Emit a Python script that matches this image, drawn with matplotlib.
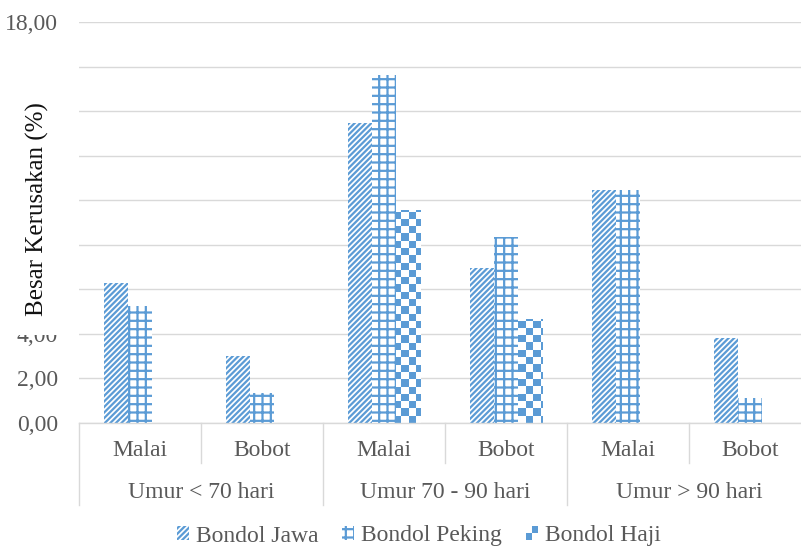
import matplotlib
matplotlib.use('Agg')
import matplotlib.pyplot as plt
import numpy as np
from matplotlib.colors import ListedColormap
from matplotlib.transforms import blended_transform_factory
from matplotlib.patches import Rectangle, Patch
from matplotlib.legend_handler import HandlerBase

plt.rcParams['font.family'] = ['Liberation Serif', 'DejaVu Serif']
plt.rcParams['hatch.linewidth'] = 1.6

# ---- data ----
sub_labels = ['Malai', 'Bobot', 'Malai', 'Bobot', 'Malai', 'Bobot']
group_labels = ['Umur < 70 hari', 'Umur 70 - 90 hari', 'Umur > 90 hari']
series_names = ['Bondol Jawa', 'Bondol Peking', 'Bondol Haji']
jawa = [6.28, 3.02, 13.45, 6.97, 10.46, 3.81]
peking = [5.27, 1.34, 15.60, 8.35, 10.46, 1.12]
haji = [0.0, 0.0, 9.56, 4.65, 0.0, 0.0]
yticks = [0, 2, 4, 6, 8, 10, 12, 14, 16, 18]
# tick labels hidden behind the axis-title box in the reference
hidden_ticks = [6, 8, 10, 12, 14, 16]

BLUE = '#5B9BD5'
GRID = '#D9D9D9'
TXT = '#595959'
FS = 17

W, H = 801, 548
fig = plt.figure(figsize=(W / 100, H / 100), dpi=100)
ax = fig.add_axes([79 / W, 125 / H, 732 / W, 401 / H])

x = np.arange(len(sub_labels))
w = 0.197
ax.bar(x - w, jawa, w, facecolor='white', edgecolor=BLUE, linewidth=0, hatch='//////')
ax.bar(x, peking, w, facecolor='white', edgecolor=BLUE, linewidth=0, hatch='++')
bars_h = ax.bar(x + w, haji, w, facecolor='none', edgecolor='none', linewidth=0)

checker = np.indices((55, 100)).sum(axis=0) % 2
cmap = ListedColormap(['white', BLUE])
for b in bars_h:
    if b.get_height() > 0:
        im = ax.imshow(checker, extent=(-0.5, 5.5, 0, 18), cmap=cmap,
                       interpolation='nearest', aspect='auto', origin='upper', zorder=2)
        im.set_clip_path(b)

ax.set_xlim(-0.5, 5.5)
ax.set_ylim(0, 18)
ax.set_yticks(yticks)
ax.set_yticklabels(['' if v in hidden_ticks else f'{v:.2f}'.replace('.', ',') for v in yticks],
                   fontsize=FS, color=TXT)
ax.tick_params(axis='y', length=0, pad=15)
ax.set_xticks([])
ax.set_axisbelow(True)
ax.grid(axis='y', color=GRID, linewidth=1)
for s in ['left', 'right', 'top']:
    ax.spines[s].set_visible(False)
ax.spines['bottom'].set_color(GRID)
ax.spines['bottom'].set_linewidth(1)

tr = blended_transform_factory(ax.transData, fig.transFigure)
for i, lab in enumerate(sub_labels):
    ax.text(i, (H - 451) / H, lab, transform=tr, ha='center', va='center', fontsize=FS, color=TXT)
for g, lab in enumerate(group_labels):
    ax.text(2 * g + 0.5, (H - 493) / H, lab, transform=tr, ha='center', va='center', fontsize=FS, color=TXT)
for xb in [-0.5, 1.5, 3.5, 5.5]:
    ax.plot([xb, xb], [125 / H, (H - 505) / H], transform=tr, color=GRID, lw=1, clip_on=False)
for xb in [0.5, 2.5, 4.5]:
    ax.plot([xb, xb], [125 / H, (H - 463) / H], transform=tr, color=GRID, lw=1, clip_on=False)

# white box of the axis title partly covering the "4,00" label
fig.patches.append(Rectangle((0, (H - 335) / H), 59 / W, (335 - 45) / H,
                             transform=fig.transFigure, facecolor='white',
                             edgecolor='none', zorder=5))
fig.text(37 / W, 1 - 209 / H, 'Besar Kerusakan (%)', rotation=90, ha='center', va='center',
         fontsize=FS + 1, color='#111111', zorder=6)


class HandlerChecker(HandlerBase):
    def create_artists(self, legend, orig_handle, xdescent, ydescent, width, height, fontsize, trans):
        x0, y0 = -xdescent, -ydescent
        r1 = Rectangle((x0, y0), width / 2, height / 2, facecolor=BLUE, edgecolor='none', transform=trans)
        r2 = Rectangle((x0 + width / 2, y0 + height / 2), width / 2, height / 2, facecolor=BLUE,
                       edgecolor='none', transform=trans)
        return [r1, r2]


h1 = Patch(facecolor='white', edgecolor=BLUE, linewidth=0, hatch='//////')
h2 = Patch(facecolor='white', edgecolor=BLUE, linewidth=0, hatch='++')
h3 = Patch(facecolor='white')
leg = fig.legend([h1, h2, h3], series_names, loc='center', bbox_to_anchor=(0.523, 12 / H),
                 ncol=3, frameon=False, fontsize=FS, handlelength=0.5, handleheight=0.5,
                 handletextpad=0.3, columnspacing=1.02, handler_map={h3: HandlerChecker()},
                 borderpad=0)
for t in leg.get_texts():
    t.set_color(TXT)

fig.savefig('out.png', dpi=100)
